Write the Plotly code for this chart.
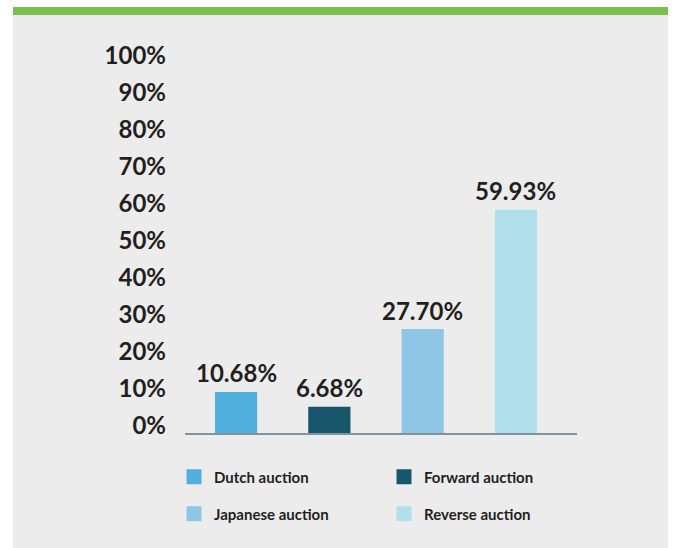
import plotly.graph_objects as go

# Share of auction types
auction_types = ["Dutch auction", "Forward auction", "Japanese auction", "Reverse auction"]
shares = [10.68, 6.68, 27.70, 59.93]
bar_colors = ["#52b0de", "#17566b", "#8fc6e6", "#b1e0ec"]
legend_rows = ["legend", "legend", "legend2", "legend2"]

y_ticks = list(range(0, 101, 10))
y_tick_labels = [f"{v}%" for v in y_ticks]

W, H = 674, 548
M_L, M_R, M_T, M_B = 185, 97, 63, 115
PW, PH = W - M_L - M_R, H - M_T - M_B

TEXT = "#231f20"
FONT = "Lato"
EDGE = 3  # outline in the bar colour, also enlarges the legend swatches


def px_to_paper_x(px):
    return (px - M_L) / PW


def px_to_paper_y(py):
    return (H - M_B - py) / PH


fig = go.Figure()
for i, (name, val, col, lg) in enumerate(zip(auction_types, shares, bar_colors, legend_rows)):
    fig.add_trace(go.Bar(
        x=[i], y=[val], name=name, width=0.42,
        marker=dict(color=col, line=dict(width=EDGE, color=col)),
        legend=lg, hoverinfo="skip",
    ))
    fig.add_annotation(
        x=i, y=val, text=f"{val:.2f}%", showarrow=False,
        yanchor="bottom", yshift=4,
        font=dict(family=FONT, size=24, color=TEXT, weight="bold"),
    )

# grey panel with green strip along the top
fig.add_shape(type="rect", xref="paper", yref="paper", layer="below",
              x0=px_to_paper_x(13), x1=px_to_paper_x(668),
              y0=px_to_paper_y(548), y1=px_to_paper_y(7),
              fillcolor="#ececec", line=dict(width=0))
fig.add_shape(type="rect", xref="paper", yref="paper", layer="below",
              x0=px_to_paper_x(13), x1=px_to_paper_x(668),
              y0=px_to_paper_y(15), y1=px_to_paper_y(7),
              fillcolor="#7bc04e", line=dict(width=0))

legend_font = dict(family=FONT, size=15, color=TEXT, weight="bold")
common_legend = dict(orientation="h", xanchor="left", yanchor="middle",
                     entrywidth=165, entrywidthmode="pixels",
                     bgcolor="rgba(0,0,0,0)", borderwidth=0, font=legend_font,
                     traceorder="normal")

fig.update_layout(
    width=W, height=H,
    margin=dict(l=M_L, r=M_R, t=M_T, b=M_B),
    paper_bgcolor="white", plot_bgcolor="rgba(0,0,0,0)",
    barmode="overlay",
    showlegend=True,
    legend=dict(x=px_to_paper_x(174), y=px_to_paper_y(477), **common_legend),
    legend2=dict(x=px_to_paper_x(174), y=px_to_paper_y(514), **common_legend),
    xaxis=dict(range=[-0.547, 3.654], showgrid=False, zeroline=False,
               showticklabels=False, showline=True, linecolor="#8393a0",
               linewidth=2, ticks="", fixedrange=True),
    yaxis=dict(range=[0, 100], tickvals=y_ticks, ticktext=y_tick_labels,
               showgrid=False, zeroline=False, showline=False, ticks="",
               ticklabelstandoff=18, ticklabelshift=-7,
               tickfont=dict(family=FONT, size=24, color=TEXT, weight="bold"),
               fixedrange=True),
)

fig.write_html("out.html")
